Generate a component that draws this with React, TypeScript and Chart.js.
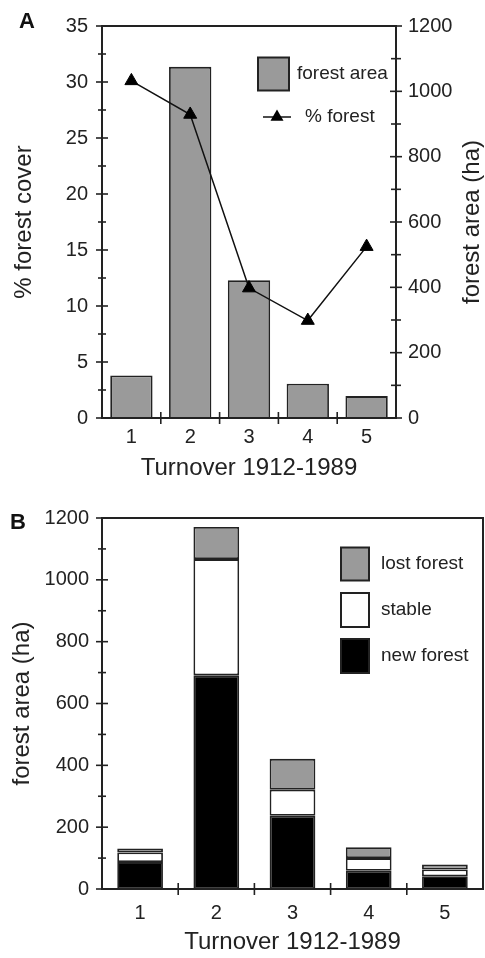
import React, { useEffect, useRef } from 'react';
import { Chart, registerables } from 'chart.js';

Chart.register(...registerables);

// ---------- data ----------
const categories = ['1', '2', '3', '4', '5'];
// Panel A
const forestAreaHa = [130, 1075, 422, 105, 67];
const percentForest = [30.1, 27.1, 11.6, 8.7, 15.3];
// Panel B (stacked)
const newForestHa = [87, 691, 237, 59, 41];
const stableHa = [31, 376, 84, 41, 22];
const lostForestHa = [13, 104, 100, 35, 16];

const xTitle = 'Turnover 1912-1989';
const leftTitleA = '% forest cover';
const rightTitleA = 'forest area (ha)';
const leftTitleB = 'forest area (ha)';

const FONT = '"Liberation Sans", Arial, Helvetica, sans-serif';
const INK = '#222';
const GRAY = '#9a9a9a';

type YAxisSpec = { id: string; side: 'left' | 'right'; minor: number; major: number; majorLen: number; minorLen: number };
type LegendItem = { ds: number; kind: 'box' | 'line'; x: number; y: number; w: number; h: number; textX: number };

const decorPlugin = {
  id: 'decor',
  afterDatasetsDraw(chart: any, _args: any, opts: any) {
    const { ctx, chartArea: a } = chart;
    ctx.save();
    // frame
    ctx.strokeStyle = INK;
    ctx.lineWidth = 2;
    ctx.strokeRect(a.left, a.top, a.right - a.left, a.bottom - a.top);
    // y ticks crossing the axis
    ctx.lineWidth = 1.6;
    (opts.yAxes as YAxisSpec[]).forEach((ax) => {
      const s = chart.scales[ax.id];
      const x = ax.side === 'left' ? a.left : a.right;
      const n = Math.round((s.max - s.min) / ax.minor);
      for (let k = 0; k <= n; k++) {
        const v = s.min + k * ax.minor;
        const isMajor = Math.abs(v / ax.major - Math.round(v / ax.major)) < 1e-6;
        const len = isMajor ? ax.majorLen : ax.minorLen;
        const y = s.getPixelForValue(v);
        ctx.beginPath();
        ctx.moveTo(x - len, y);
        ctx.lineTo(x + len, y);
        ctx.stroke();
      }
    });
    // x ticks at category boundaries
    const xs = chart.scales.x;
    const nCat = chart.data.labels.length;
    for (let i = 1; i < nCat; i++) {
      const px = (xs.getPixelForValue(i - 1) + xs.getPixelForValue(i)) / 2;
      ctx.beginPath();
      ctx.moveTo(px, a.bottom - 6);
      ctx.lineTo(px, a.bottom + 6);
      ctx.stroke();
    }
    // legend
    ctx.font = `19px ${FONT}`;
    ctx.textBaseline = 'middle';
    ctx.textAlign = 'left';
    (opts.legend as LegendItem[]).forEach((it) => {
      const ds = chart.data.datasets[it.ds];
      if (it.kind === 'box') {
        ctx.fillStyle = ds.backgroundColor;
        ctx.fillRect(it.x, it.y - it.h / 2, it.w, it.h);
        ctx.strokeStyle = INK;
        ctx.lineWidth = 2;
        ctx.strokeRect(it.x, it.y - it.h / 2, it.w, it.h);
      } else {
        ctx.strokeStyle = ds.borderColor;
        ctx.lineWidth = ds.borderWidth;
        ctx.beginPath();
        ctx.moveTo(it.x, it.y);
        ctx.lineTo(it.x + it.w, it.y);
        ctx.stroke();
        const r = ds.pointRadius;
        const cx = it.x + it.w / 2;
        ctx.fillStyle = ds.pointBackgroundColor;
        ctx.beginPath();
        ctx.moveTo(cx, it.y - r);
        ctx.lineTo(cx + (r * Math.sqrt(3)) / 2, it.y + r / 2);
        ctx.lineTo(cx - (r * Math.sqrt(3)) / 2, it.y + r / 2);
        ctx.closePath();
        ctx.fill();
      }
      ctx.fillStyle = INK;
      ctx.fillText(ds.label, it.textX, it.y);
    });
    // panel letter
    ctx.font = `bold 22px ${FONT}`;
    ctx.fillStyle = '#111';
    ctx.fillText(opts.letter.text, opts.letter.x, opts.letter.y);
    // rotated right-side title (reads bottom to top)
    if (opts.rightTitle) {
      const s = chart.scales[opts.rightTitle.id];
      ctx.translate(opts.rightTitle.x, (s.top + s.bottom) / 2);
      ctx.rotate(-Math.PI / 2);
      ctx.font = `24px ${FONT}`;
      ctx.textAlign = 'center';
      ctx.fillStyle = INK;
      ctx.fillText(opts.rightTitle.text, 0, 0);
    }
    ctx.restore();
  },
};

const tickFont = { family: FONT, size: 20 };
const titleFont = { family: FONT, size: 24, lineHeight: 1 };
const noGrid = { display: false, drawTicks: false };
const noBorder = { display: false };
const plain = (v: any) => String(v);

function configA(): any {
  return {
    type: 'bar',
    data: {
      labels: categories,
      datasets: [
        {
          type: 'line',
          label: '% forest',
          data: percentForest,
          yAxisID: 'y',
          borderColor: '#111',
          borderWidth: 1.5,
          pointStyle: 'triangle',
          pointRadius: 7.5,
          pointBackgroundColor: '#000',
          pointBorderColor: '#000',
          pointBorderWidth: 1,
          tension: 0,
          order: 1,
        },
        {
          type: 'bar',
          label: 'forest area',
          data: forestAreaHa,
          yAxisID: 'y1',
          backgroundColor: GRAY,
          borderColor: INK,
          borderWidth: 1.8,
          barPercentage: 0.72,
          categoryPercentage: 1,
          order: 2,
        },
      ],
    },
    options: {
      responsive: false,
      animation: false,
      events: [],
      layout: { padding: { top: 21, left: 0, right: 0, bottom: 0 } },
      plugins: {
        legend: { display: false },
        tooltip: { enabled: false },
        decor: {
          yAxes: [
            { id: 'y', side: 'left', minor: 2.5, major: 5, majorLen: 6, minorLen: 4 },
            { id: 'y1', side: 'right', minor: 100, major: 200, majorLen: 6, minorLen: 5 },
          ],
          legend: [
            { ds: 1, kind: 'box', x: 258, y: 74, w: 31, h: 33, textX: 297 },
            { ds: 0, kind: 'line', x: 263, y: 117, w: 28, h: 0, textX: 305 },
          ],
          letter: { text: 'A', x: 19, y: 22 },
          rightTitle: { id: 'y1', text: rightTitleA, x: 472 },
        },
      },
      scales: {
        x: {
          position: 'bottom',
          grid: noGrid,
          border: noBorder,
          ticks: { font: tickFont, color: INK, padding: 7 },
          title: { display: true, text: xTitle, font: titleFont, color: INK, padding: { top: 0, bottom: 0 } },
          afterFit: (s: any) => { s.height = 62; },
        },
        y: {
          position: 'left',
          min: 0,
          max: 35,
          grid: noGrid,
          border: noBorder,
          ticks: { stepSize: 5, font: tickFont, color: INK, padding: 14, autoSkip: false, callback: plain },
          title: { display: true, text: leftTitleA, font: titleFont, color: INK, padding: { top: 12, bottom: 0 } },
          afterFit: (s: any) => { s.width = 102; },
        },
        y1: {
          position: 'right',
          min: 0,
          max: 1200,
          grid: noGrid,
          border: noBorder,
          ticks: { stepSize: 200, font: tickFont, color: INK, padding: 12, autoSkip: false, callback: plain },
          afterFit: (s: any) => { s.width = 89; },
        },
      },
    },
    plugins: [decorPlugin],
  };
}

function configB(): any {
  const common = { borderColor: INK, borderWidth: 1.8, borderSkipped: false, barPercentage: 0.6, categoryPercentage: 1 };
  return {
    type: 'bar',
    data: {
      labels: categories,
      datasets: [
        { label: 'new forest', data: newForestHa, backgroundColor: '#000', ...common },
        { label: 'stable', data: stableHa, backgroundColor: '#fff', ...common },
        { label: 'lost forest', data: lostForestHa, backgroundColor: GRAY, ...common },
      ],
    },
    options: {
      responsive: false,
      animation: false,
      events: [],
      layout: { padding: { top: 38, left: 0, right: 2, bottom: 0 } },
      plugins: {
        legend: { display: false },
        tooltip: { enabled: false },
        decor: {
          yAxes: [{ id: 'y', side: 'left', minor: 100, major: 200, majorLen: 6, minorLen: 4 }],
          legend: [
            { ds: 2, kind: 'box', x: 341, y: 84, w: 28, h: 33, textX: 381 },
            { ds: 1, kind: 'box', x: 341, y: 130, w: 28, h: 34, textX: 381 },
            { ds: 0, kind: 'box', x: 341, y: 176, w: 28, h: 34, textX: 381 },
          ],
          letter: { text: 'B', x: 10, y: 43 },
        },
      },
      scales: {
        x: {
          stacked: true,
          position: 'bottom',
          grid: noGrid,
          border: noBorder,
          ticks: { font: tickFont, color: INK, padding: 12 },
          title: { display: true, text: xTitle, font: titleFont, color: INK, padding: { top: 0, bottom: 4 } },
          afterFit: (s: any) => { s.height = 69; },
        },
        y: {
          stacked: true,
          position: 'left',
          min: 0,
          max: 1200,
          grid: noGrid,
          border: noBorder,
          ticks: { stepSize: 200, font: tickFont, color: INK, padding: 13, autoSkip: false, callback: plain },
          title: { display: true, text: leftTitleB, font: titleFont, color: INK, padding: { top: 10, bottom: 0 } },
          afterFit: (s: any) => { s.width = 102; },
        },
      },
    },
    plugins: [decorPlugin],
  };
}

function ChartCanvas({ make, width, height, top }: { make: () => any; width: number; height: number; top: number }) {
  const ref = useRef<HTMLCanvasElement | null>(null);
  useEffect(() => {
    if (!ref.current) return;
    const chart = new Chart(ref.current, make());
    return () => chart.destroy();
  }, [make]);
  return (
    <canvas
      ref={ref}
      width={width}
      height={height}
      style={{ position: 'absolute', left: 0, top, width, height, display: 'block' }}
    />
  );
}

export default function App() {
  return (
    <div style={{ position: 'absolute', left: 0, top: 0, width: 485, height: 958, background: '#fff', overflow: 'hidden' }}>
      <ChartCanvas make={configA} width={485} height={480} top={0} />
      <ChartCanvas make={configB} width={485} height={478} top={480} />
    </div>
  );
}
